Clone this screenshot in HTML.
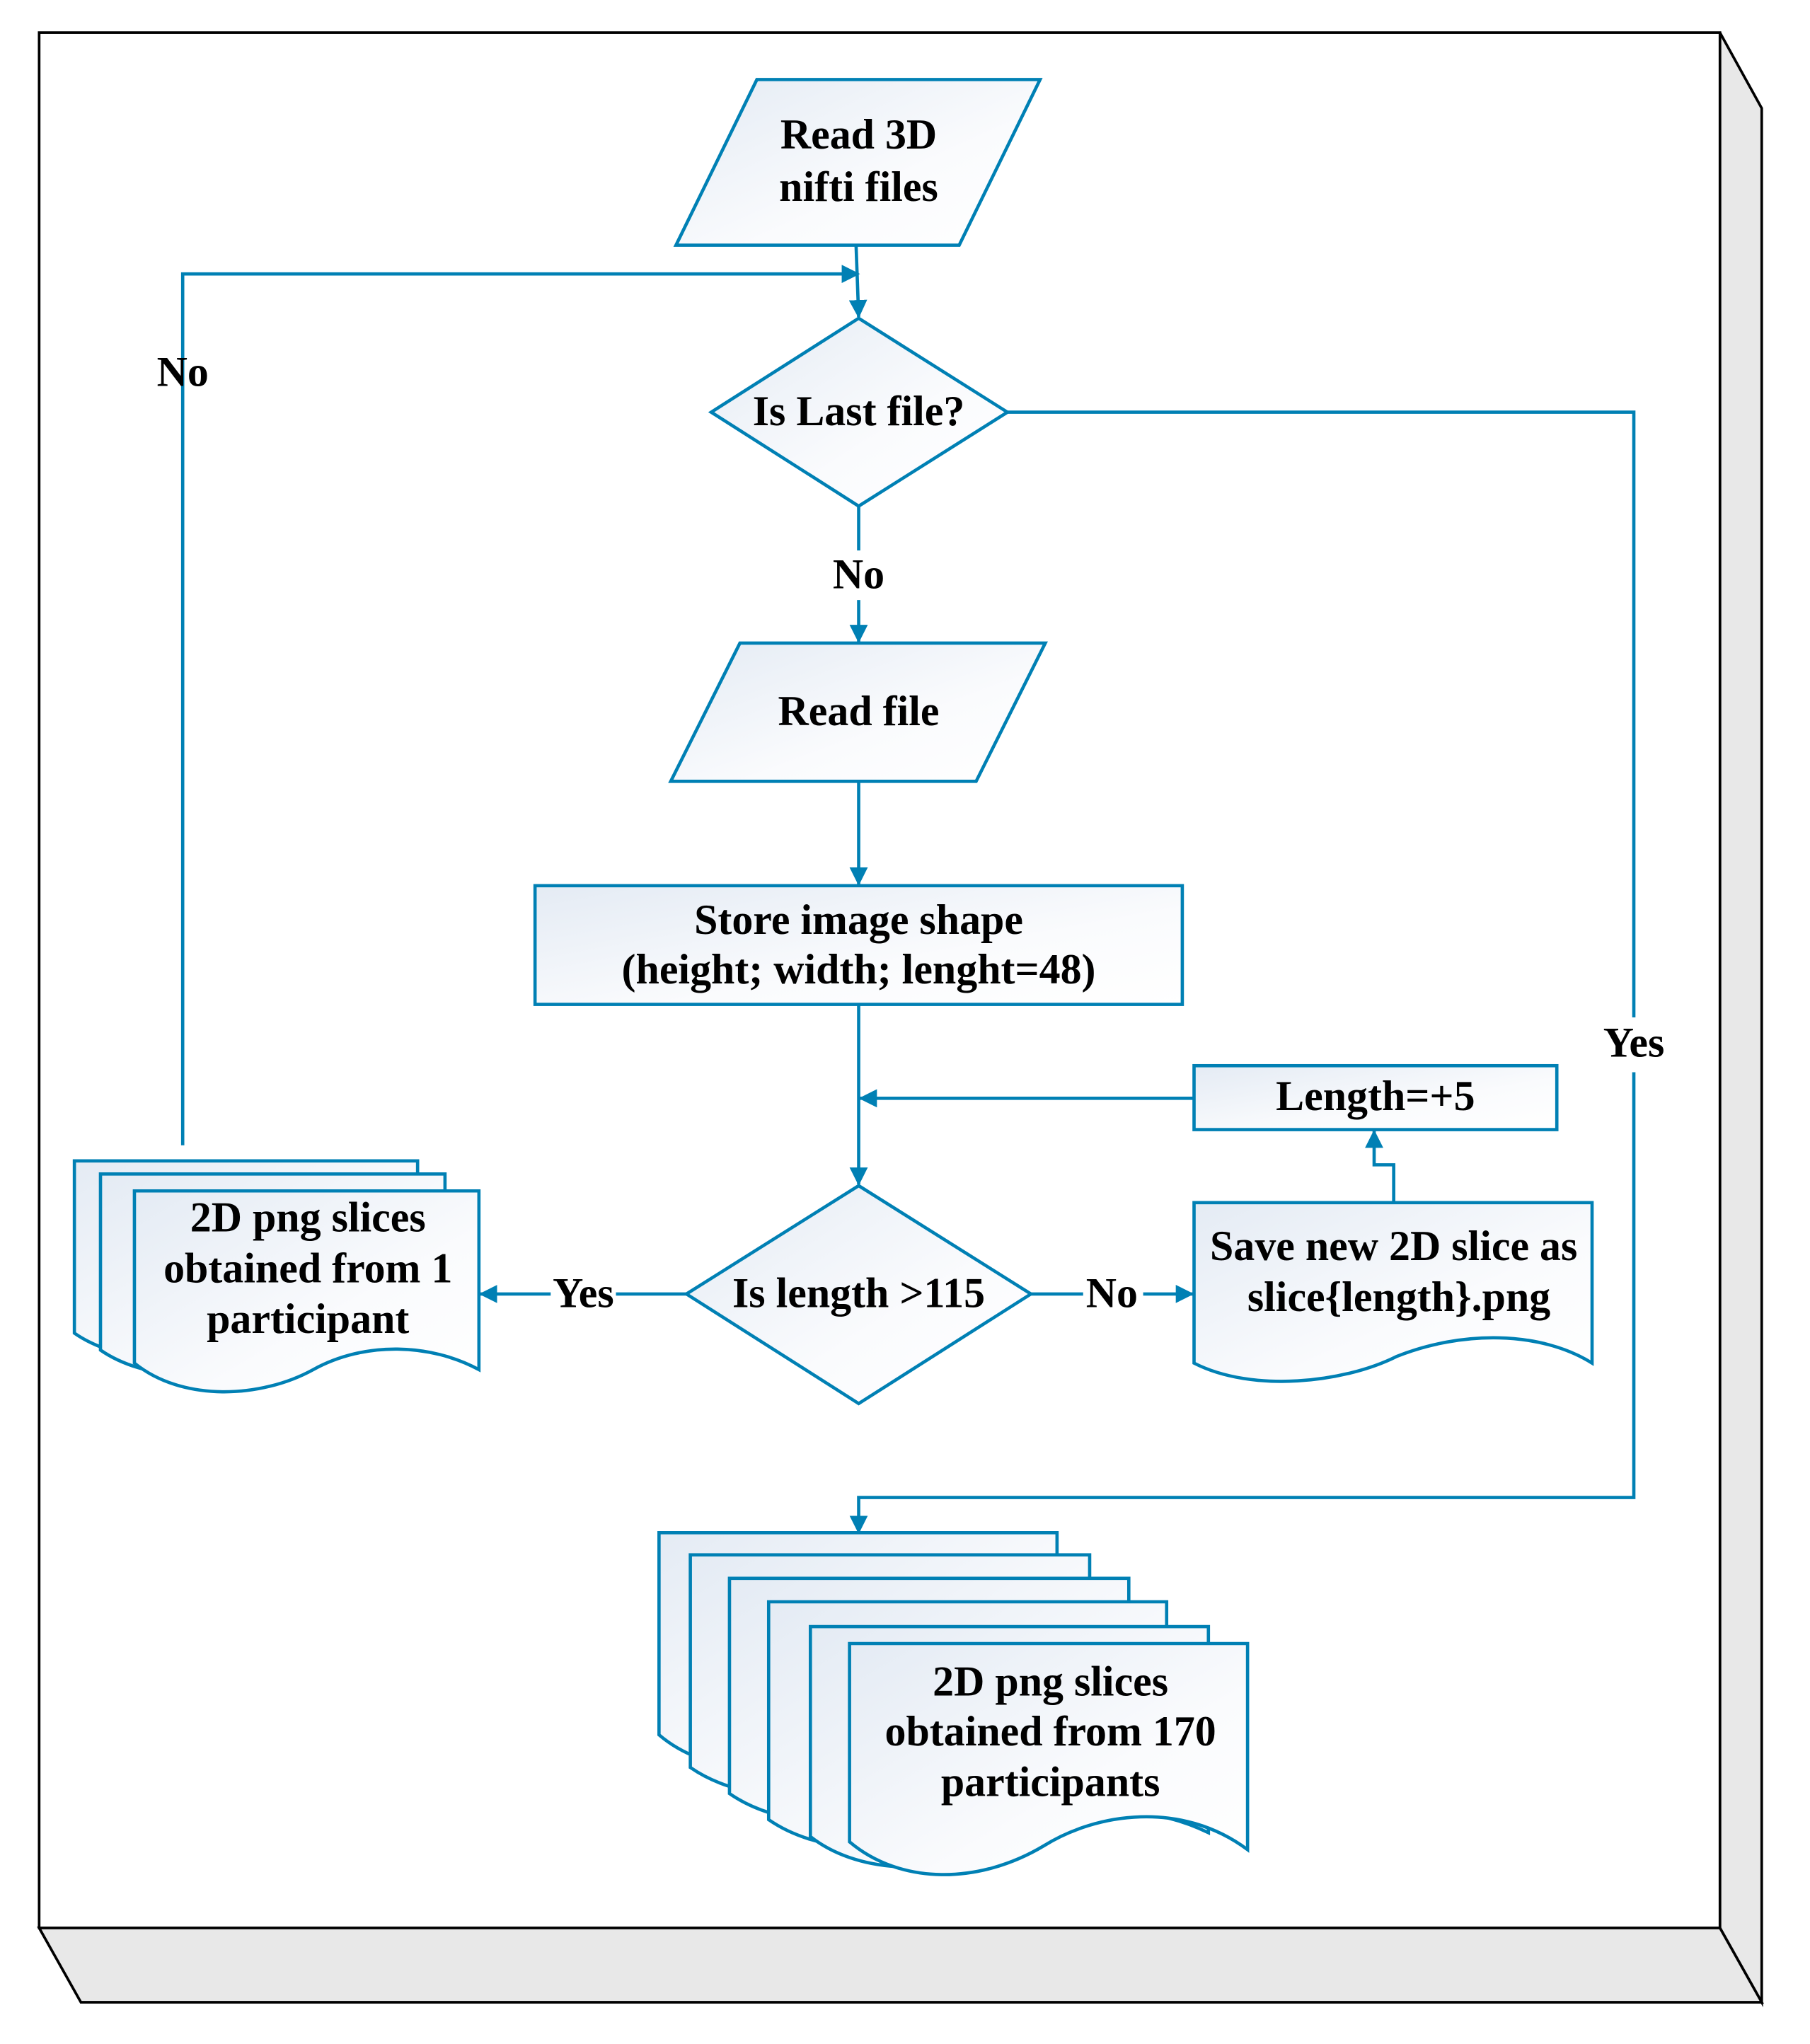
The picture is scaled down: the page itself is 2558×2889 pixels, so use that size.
<!DOCTYPE html>
<html><head><meta charset="utf-8"><style>
html,body{margin:0;padding:0;background:#fff;}
svg{display:block;}
text{font-family:"Liberation Serif",serif;font-weight:bold;fill:#000;font-size:32.5px;text-anchor:middle;}
</style></head><body>
<svg width="2558" height="2889" viewBox="0 0 1387 1567" preserveAspectRatio="none" xmlns="http://www.w3.org/2000/svg">
<defs>
<linearGradient id="g" x1="0" y1="0" x2="1" y2="1">
<stop offset="0" stop-color="#e4ebf4"/><stop offset="0.6" stop-color="#fafbfd"/><stop offset="1" stop-color="#ffffff"/>
</linearGradient>
<marker id="a" markerWidth="14" markerHeight="14" refX="13" refY="7" orient="auto" markerUnits="userSpaceOnUse" viewBox="0 0 14 14">
<path d="M0,0 L14,7 L0,14 z" fill="#0080b4"/>
</marker>
</defs>
<polygon points="1318,25 1350,83 1350,1535 1318,1478" fill="#e8e8e8" stroke="#000" stroke-width="2"/>
<polygon points="30,1478 1318,1478 1350,1535 62,1535" fill="#e8e8e8" stroke="#000" stroke-width="2"/>
<rect x="30" y="25" width="1288" height="1453" fill="#fff" stroke="#000" stroke-width="2"/>

<g stroke="#0080b4" stroke-width="2.5" fill="url(#g)">
<polygon points="580,61 797,61 735,188 518,188"/>
<polygon points="658,244 772,316 658,388 545,316"/>
<polygon points="567,493 801,493 748,599 514,599"/>
<rect x="410" y="679" width="496" height="91"/>
<rect x="915" y="817" width="278" height="49"/>
<polygon points="658,909 790,992 658,1076 526,992"/>
<path d="M915,922 H1220 V1045 C1180,1020 1120,1020 1070,1040 C1030,1060 960,1068 915,1045 Z"/>
<path d="M57,890 H320 V1020 C280,1000 230,1005 190,1030 C150,1050 90,1045 57,1022 Z"/>
<path d="M77,900 H341 V1035 C300,1012 250,1015 210,1040 C170,1062 110,1058 77,1035 Z"/>
<path d="M103,913 H367 V1050 C330,1030 280,1028 240,1050 C200,1072 140,1075 103,1045 Z"/>
<path d="M505,1175 H810 V1330 C760,1305 700,1310 650,1340 C600,1365 540,1360 505,1330 Z"/>
<path d="M529,1192 H835 V1350 C785,1325 725,1330 675,1360 C625,1385 565,1380 529,1355 Z"/>
<path d="M559,1210 H865 V1370 C815,1345 755,1350 705,1380 C655,1405 595,1400 559,1375 Z"/>
<path d="M589,1228 H894 V1390 C845,1365 785,1370 735,1400 C685,1425 625,1420 589,1395 Z"/>
<path d="M621,1247 H926 V1405 C875,1380 815,1385 765,1415 C715,1440 655,1435 621,1408 Z"/>
<path d="M651,1260 H956 V1418 C905,1380 840,1390 800,1415 C750,1445 690,1445 651,1412 Z"/>
</g>

<g stroke="#0080b4" stroke-width="2.5" fill="none">
<line x1="656" y1="188" x2="658" y2="243" marker-end="url(#a)"/>
<polyline points="140,878 140,210 658,210" marker-end="url(#a)"/>
<line x1="658" y1="388" x2="658" y2="422"/>
<line x1="658" y1="460" x2="658" y2="492" marker-end="url(#a)"/>
<line x1="658" y1="599" x2="658" y2="678" marker-end="url(#a)"/>
<line x1="658" y1="770" x2="658" y2="908" marker-end="url(#a)"/>
<line x1="915" y1="842" x2="659" y2="842" marker-end="url(#a)"/>
<polyline points="1068,922 1068,893 1053,893 1053,867" marker-end="url(#a)"/>
<line x1="790" y1="992" x2="830" y2="992"/>
<line x1="876" y1="992" x2="914" y2="992" marker-end="url(#a)"/>
<line x1="526" y1="992" x2="472" y2="992"/>
<line x1="422" y1="992" x2="368" y2="992" marker-end="url(#a)"/>
<polyline points="772,316 1252,316 1252,780"/>
<polyline points="1252,822 1252,1148 658,1148 658,1175" marker-end="url(#a)"/>
</g>

<text x="658" y="114">Read 3D</text>
<text x="658" y="154">nifti files</text>
<text x="658" y="326">Is Last file?</text>
<text x="140" y="296">No</text>
<text x="658" y="451">No</text>
<text x="658" y="556">Read file</text>
<text x="658" y="716">Store image shape</text>
<text x="658" y="754">(height; width; lenght=48)</text>
<text x="1054" y="851">Length=+5</text>
<text x="1252" y="810">Yes</text>
<text x="658" y="1002">Is length &gt;115</text>
<text x="852" y="1002">No</text>
<text x="447" y="1002">Yes</text>
<text x="1068" y="966">Save new 2D slice as</text>
<text x="1072" y="1005">slice{length}.png</text>
<text x="236" y="944">2D png slices</text>
<text x="236" y="983">obtained from 1</text>
<text x="236" y="1022">participant</text>
<text x="805" y="1300">2D png slices</text>
<text x="805" y="1338">obtained from 170</text>
<text x="805" y="1377">participants</text>
</svg>
</body></html>
